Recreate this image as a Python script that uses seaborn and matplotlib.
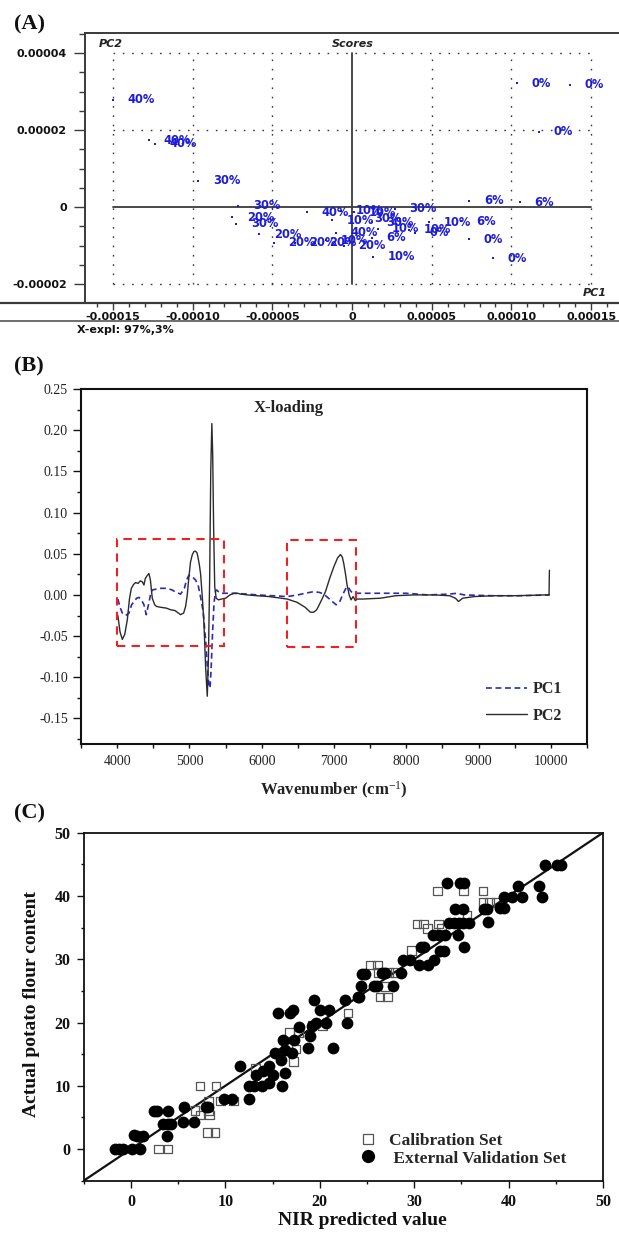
import matplotlib
matplotlib.use("Agg")
import matplotlib.pyplot as plt
import seaborn as sns
from matplotlib.lines import Line2D
from matplotlib.patches import Rectangle
from matplotlib.ticker import MultipleLocator, FixedLocator, FormatStrFormatter

# ---------------- Panel A: PCA scores ----------------
score_pc1 = [-15.0e-5, -12.75e-5, -12.35e-5, -9.65e-5, -7.13e-5, -7.5e-5, -7.25e-5,
             -5.82e-5, -4.9e-5, -3.6e-5, -2.35e-5, -2.85e-5, -1.24e-5, -1.0e-5,
             -1.6e-5, -0.5e-5, -0.7e-5, 0.15e-5, 0.5e-5, 1.24e-5, 1.6e-5, 1.24e-5,
             1.34e-5, 2.7e-5, 3.6e-5, 3.96e-5, 4.83e-5, 6.86e-5, 7.36e-5, 10.54e-5,
             7.36e-5, 8.86e-5, 10.33e-5, 13.68e-5, 11.75e-5]
score_pc2 = [2.79e-5, 1.74e-5, 1.64e-5, 0.68e-5, 0.04e-5, -0.26e-5, -0.43e-5,
             -0.71e-5, -0.92e-5, -0.92e-5, -0.92e-5, -0.14e-5, -0.34e-5, -0.66e-5,
             -0.86e-5, -1.0e-5, -0.1e-5, -0.13e-5, -0.3e-5, -0.39e-5, -0.56e-5, -0.8e-5,
             -1.29e-5, -0.04e-5, -0.59e-5, -0.66e-5, -0.39e-5, -0.37e-5, 0.16e-5, 0.12e-5,
             -0.84e-5, -1.33e-5, 3.21e-5, 3.17e-5, 1.96e-5]
score_labels = ["40%", "40%", "40%", "30%", "30%", "20%", "30%",
                "20%", "20%", "20%", "20%", "40%", "10%", "40%",
                "10%", "20%", "10%", "10%", "30%", "30%", "10%", "6%",
                "10%", "30%", "10%", "0%", "10%", "6%", "6%", "6%",
                "0%", "0%", "0%", "0%", "0%"]
a_xticks = [-0.00015, -0.00010, -0.00005, 0.0, 0.00005, 0.00010, 0.00015]
a_xticklabels = ["-0.00015", "-0.00010", "-0.00005", "0", "0.00005", "0.00010", "0.00015"]
a_yticks = [-0.00002, 0.0, 0.00002, 0.00004]
a_yticklabels = ["-0.00002", "0", "0.00002", "0.00004"]

# ---------------- Panel B: X-loadings ----------------
wn_pc2 = [4010, 4040, 4072, 4105, 4141, 4170, 4196, 4230, 4256, 4290, 4320, 4348, 4371,
          4390, 4420, 4440, 4460, 4486, 4520, 4546, 4600, 4680, 4740, 4800, 4878, 4920,
          4947, 4970, 4993, 5015, 5040, 5065, 5086, 5105, 5118, 5140, 5155, 5180, 5201,
          5225, 5247, 5262, 5280, 5295, 5310, 5322, 5335, 5350, 5370, 5400, 5445, 5500,
          5560, 5620, 5666, 5706, 5800, 5937, 6100, 6352, 6490, 6600, 6674, 6720, 6760,
          6790, 6840, 6882, 6940, 6997, 7050, 7089, 7115, 7135, 7160, 7181, 7210, 7236,
          7264, 7296, 7319, 7400, 7641, 7851, 8100, 8396, 8600, 8680, 8722, 8780, 8940,
          9200, 9500, 9925, 9975, 9980]
pc2 = [-0.025, -0.045, -0.054, -0.048, -0.030, -0.005, 0.008, 0.013, 0.015, 0.014, 0.017,
       0.016, 0.012, 0.020, 0.024, 0.026, 0.018, -0.004, -0.012, -0.014, -0.015, -0.016,
       -0.018, -0.019, -0.024, -0.022, -0.014, 0.000, 0.022, 0.040, 0.049, 0.053, 0.053,
       0.051, 0.046, 0.035, 0.025, -0.005, -0.035, -0.090, -0.123, -0.080, 0.020, 0.150,
       0.208, 0.170, 0.080, 0.010, -0.004, -0.006, -0.005, -0.004, 0.000, 0.002, 0.002,
       0.001, 0.000, -0.001, -0.002, -0.005, -0.009, -0.015, -0.021, -0.021, -0.018,
       -0.013, -0.004, 0.004, 0.020, 0.034, 0.045, 0.049, 0.046, 0.038, 0.025, 0.012,
       0.000, -0.006, -0.002, -0.007, -0.005, -0.005, -0.004, -0.001, 0.000, 0.000,
       -0.001, -0.004, -0.008, -0.004, -0.002, -0.001, -0.001, 0.000, 0.000, 0.030]
wn_pc1 = [4010, 4040, 4072, 4118, 4164, 4200, 4233, 4270, 4302, 4330, 4348, 4371, 4403,
          4425, 4440, 4460, 4486, 4540, 4600, 4693, 4760, 4820, 4878, 4930, 4960, 4993,
          5040, 5086, 5120, 5155, 5190, 5224, 5250, 5270, 5285, 5300, 5318, 5340, 5362,
          5377, 5400, 5431, 5615, 5800, 5937, 6150, 6352, 6500, 6600, 6720, 6800, 6859,
          6950, 7030, 7080, 7130, 7170, 7195, 7227, 7260, 7319, 7641, 8000, 8300, 8600,
          8700, 8800, 9200, 9600, 9975, 9985]
pc1 = [-0.005, -0.015, -0.022, -0.025, -0.022, -0.012, -0.008, -0.004, -0.003, -0.006,
       -0.008, -0.012, -0.024, -0.015, -0.010, 0.000, 0.006, 0.007, 0.008, 0.008, 0.006,
       0.003, 0.001, 0.008, 0.018, 0.024, 0.022, 0.018, 0.012, -0.003, -0.020, -0.055,
       -0.090, -0.111, -0.113, -0.090, -0.050, -0.010, 0.005, 0.006, 0.004, 0.002, 0.002,
       0.001, 0.000, -0.001, -0.002, 0.000, 0.002, 0.004, 0.003, 0.001, -0.006, -0.012,
       -0.008, 0.002, 0.009, 0.010, 0.005, 0.002, 0.002, 0.002, 0.002, 0.000, 0.001,
       0.002, 0.000, -0.001, -0.001, 0.000, 0.000]
# highlighted regions (wavenumber start, end, loading low, high)
regions = [(4000, 5480, -0.0615, 0.068), (6345, 7300, -0.063, 0.067)]

# ---------------- Panel C: predicted vs actual ----------------
cal_pred = [2.95, 3.95, 8.1, 8.9, 7.3, 8.3, 6.8, 8.2, 8.2, 9.5, 10.85, 7.3, 9.0, 13.2, 17.2,
            17.5, 16.8, 17.75, 19.2, 20.3, 23.0, 26.4, 27.15, 26.9, 26.2, 27.3, 28.0, 25.35,
            26.1, 29.7, 30.3, 31.0, 32.6, 31.4, 32.9, 35.6, 37.3, 38.0, 38.7, 32.5, 35.2, 37.3]
cal_act = [0, 0, 2.6, 2.6, 5.4, 5.4, 6.1, 6.1, 7.6, 7.6, 7.6, 10.0, 10.0, 12.8, 13.8,
           15.8, 18.4, 18.4, 19.5, 19.5, 21.5, 24.0, 24.0, 25.7, 27.9, 27.9, 27.9, 29.1,
           29.1, 31.4, 35.6, 35.6, 35.6, 34.9, 34.9, 37.0, 39.0, 39.0, 39.0, 40.8, 40.8, 40.8]
val_pred = [-1.7, -1.3, -0.85, 0.15, 1.0, 0.3, 0.65, 1.3, 3.78, 2.45, 2.75, 3.9, 3.4, 3.95,
            4.2, 5.5, 6.65, 5.6, 7.95, 8.15, 9.9, 10.7, 12.55, 11.55, 12.5, 13.0, 13.9, 14.6,
            16.0, 13.3, 14.0, 14.6, 15.0, 16.3, 15.25, 15.9, 16.3, 16.1, 17.1, 17.3, 15.6,
            16.9, 17.2, 17.75, 18.8, 19.0, 19.2, 19.35, 19.6, 20.05, 20.7, 21.0, 21.4, 22.7,
            22.85, 24.0, 24.2, 24.4, 24.5, 24.8, 25.7, 26.1, 27.8, 26.6, 26.9, 28.6, 28.8,
            29.6, 30.5, 31.5, 32.1, 30.7, 31.0, 32.7, 33.2, 35.3, 32.0, 32.6, 33.3, 34.6,
            33.7, 34.2, 34.7, 35.2, 35.8, 37.8, 34.3, 35.2, 37.4, 37.7, 39.1, 39.5, 39.5,
            40.4, 41.4, 43.5, 41.05, 43.2, 33.5, 34.9, 35.3, 43.9, 45.1, 45.5]
val_act = [0, 0, 0, 0, 0, 2.2, 2.0, 2.0, 2.1, 5.95, 5.95, 5.95, 4.0, 4.0, 4.0, 4.2, 4.2,
           6.7, 6.7, 6.7, 7.9, 7.9, 7.9, 13.05, 10.0, 10.0, 10.0, 10.5, 10.0, 11.7, 12.3,
           13.05, 11.7, 12.0, 15.2, 14.1, 15.7, 17.3, 15.2, 17.3, 21.5, 21.5, 21.9, 19.3,
           15.9, 17.8, 19.4, 23.5, 19.9, 21.9, 19.9, 21.9, 15.9, 23.6, 19.9, 24.0, 24.0,
           25.7, 27.7, 27.7, 25.8, 25.8, 25.8, 27.9, 27.9, 27.9, 29.9, 29.9, 29.1, 29.1,
           29.9, 31.9, 31.9, 31.3, 31.3, 31.9, 33.9, 33.9, 33.9, 33.8, 35.8, 35.8, 35.8,
           35.8, 35.8, 35.9, 38.0, 38.0, 38.0, 38.0, 38.1, 38.1, 39.9, 39.9, 39.9, 39.9,
           41.5, 41.5, 42.0, 42.0, 42.0, 44.9, 44.9, 44.9]
fit_line = [-5, 50]

# ---------------- style ----------------
sns.set_style("white")
plt.rcParams['font.family'] = ['DejaVu Sans']
plt.rcParams['axes.unicode_minus'] = False
plt.rcParams['mathtext.fontset'] = 'custom'
plt.rcParams['mathtext.rm'] = 'Liberation Serif'
plt.rcParams['mathtext.it'] = 'Liberation Serif:italic'
plt.rcParams['mathtext.bf'] = 'Liberation Serif:bold'

W, H = 619, 1238
fig = plt.figure(figsize=(W / 100, H / 100), dpi=100)
fig.patch.set_facecolor('white')


def rect(l, t, r, b):
    return [l / W, 1 - b / H, (r - l) / W, (b - t) / H]


def fx(px):
    return px / W


def fy(py):
    return 1 - py / H


SERIF = 'Liberation Serif'
BLUE = '#1c1cd6'
GREY = '#3a3a3a'

# ================= Panel A =================
axA = fig.add_axes(rect(85, 33, 619, 303))
for a in ('right', 'bottom'):
    axA.spines[a].set_visible(False)
for a in ('left', 'top'):
    axA.spines[a].set_color(GREY)
    axA.spines[a].set_linewidth(1.4)
axA.set_xlim(-0.0001675, 0.0001675)
axA.set_ylim(-0.0000249, 0.0000452)

# dotted grid
for gx in a_xticks:
    if gx != 0:
        axA.plot([gx, gx], [-0.00002, 0.00004], color=GREY, lw=1.0,
                 dashes=(1.2, 5.5), zorder=1)
for gy in a_yticks:
    if gy != 0:
        axA.plot([-0.00015, 0.00015], [gy, gy], color=GREY, lw=1.0,
                 dashes=(1.2, 5.5), zorder=1)
axA.plot([0, 0], [-0.00002, 0.00004], color=GREY, lw=1.3, zorder=1)
axA.plot([-0.00015, 0.00015], [0, 0], color=GREY, lw=1.3, zorder=1)

sns.scatterplot(x=score_pc1, y=score_pc2, ax=axA, color=BLUE, s=3, marker='s',
                linewidth=0, zorder=3)
for xv, yv, lab in zip(score_pc1, score_pc2, score_labels):
    axA.annotate(lab, (xv, yv), xytext=(10.5, 0), textcoords='offset points',
                 ha='left', va='center', color=BLUE, fontsize=8.3, fontweight='bold',
                 family='DejaVu Sans', zorder=4)

axA.xaxis.set_major_locator(FixedLocator(a_xticks))
axA.xaxis.set_minor_locator(MultipleLocator(0.00001))
axA.yaxis.set_major_locator(FixedLocator(a_yticks))
axA.yaxis.set_minor_locator(MultipleLocator(0.000005))
axA.set_xticklabels(a_xticklabels, fontweight='bold', fontsize=8, color='#111')
axA.set_yticklabels(a_yticklabels, fontweight='bold', fontsize=8, color='#111')
axA.tick_params(axis='x', which='major', direction='out', length=5, width=1,
                color=GREY, pad=1.5, bottom=True)
axA.tick_params(axis='x', which='minor', direction='out', length=3, width=1,
                color=GREY, bottom=True)
axA.tick_params(axis='y', which='major', direction='out', length=8, width=1,
                color=GREY, pad=5, left=True)
axA.tick_params(axis='y', which='minor', direction='out', length=4, width=1,
                color=GREY, left=True)

fig.add_artist(Line2D([0, 1], [fy(303), fy(303)], color=GREY, lw=1.6))
fig.add_artist(Line2D([0, 1], [fy(321.5), fy(321.5)], color='#555555', lw=1.2))
fig.text(fx(99), fy(44), "PC2", fontsize=8, fontweight='bold', style='italic',
         ha='left', va='center', color='#222')
fig.text(fx(353), fy(44), "Scores", fontsize=8, fontweight='bold', style='italic',
         ha='center', va='center', color='#222')
fig.text(fx(583), fy(293), "PC1", fontsize=8, fontweight='bold', style='italic',
         ha='left', va='center', color='#222')
fig.text(fx(77), fy(330), "X-expl: 97%,3%", fontsize=8, fontweight='bold',
         ha='left', va='center', color='#111')

# ================= Panel B =================
axB = fig.add_axes(rect(81, 389, 587, 744))
sns.lineplot(x=wn_pc2, y=pc2, ax=axB, color='#2b2b2b', lw=1.0, estimator=None,
             sort=False, zorder=3)
sns.lineplot(x=wn_pc1, y=pc1, ax=axB, color='#2a2ab8', lw=1.2, estimator=None,
             sort=False, zorder=2, dashes=False, linestyle=(0, (3.5, 2.2)))
for (x0, x1, y0, y1) in regions:
    axB.add_patch(Rectangle((x0, y0), x1 - x0, y1 - y0, fill=False, edgecolor='#ee2222',
                            lw=1.5, linestyle=(0, (4, 3)), zorder=4))
axB.set_xlim(3500, 10500)
axB.set_ylim(-0.181, 0.25)
axB.xaxis.set_major_locator(MultipleLocator(1000))
axB.xaxis.set_minor_locator(MultipleLocator(500))
axB.yaxis.set_major_locator(MultipleLocator(0.05))
axB.yaxis.set_minor_locator(MultipleLocator(0.025))
axB.yaxis.set_major_formatter(FormatStrFormatter('%.2f'))
axB.set_xticks([4000, 5000, 6000, 7000, 8000, 9000, 10000])
for sp in axB.spines.values():
    sp.set_color('#111')
    sp.set_linewidth(1.5)
axB.tick_params(axis='both', which='both', direction='out', width=1, color='#111',
                labelsize=10, labelcolor='#222')
axB.tick_params(axis='y', which='major', length=6, pad=3.5, left=True)
axB.tick_params(axis='y', which='minor', length=3, left=True)
axB.tick_params(axis='x', which='both', length=3, pad=5, bottom=True)
for lab in axB.get_xticklabels() + axB.get_yticklabels():
    lab.set_family(SERIF)
axB.set_xlabel("Wavenumber (cm$^{-1}$)", family=SERIF, fontweight='bold', fontsize=12,
               color='#222')
axB.xaxis.set_label_coords(0.499, -0.1)
axB.set_ylabel("")
axB.text(0.41, 0.947, "X-loading", transform=axB.transAxes, family=SERIF,
         fontweight='bold', fontsize=12, ha='center', va='center', color='#222')
hB = [Line2D([], [], color='#2a2ab8', lw=1.2, linestyle=(0, (3.5, 2.2))),
      Line2D([], [], color='#2b2b2b', lw=1.0)]
axB.legend(hB, ["PC1", "PC2"], loc='center left', bbox_to_anchor=(0.80, 0.117),
           frameon=False, borderpad=0, borderaxespad=0, handlelength=2.56,
           handletextpad=0.4, labelspacing=0.66,
           prop={'family': SERIF, 'weight': 'bold', 'size': 11.5})

# ================= Panel C =================
axC = fig.add_axes(rect(83.7, 832.7, 603, 1180.7))
sns.lineplot(x=fit_line, y=fit_line, ax=axC, color='#111', lw=1.6, estimator=None,
             zorder=2)
sns.scatterplot(x=cal_pred, y=cal_act, ax=axC, marker='s', s=38, facecolors='none',
                edgecolor='#555555', linewidth=0.9, zorder=3)
sns.scatterplot(x=val_pred, y=val_act, ax=axC, marker='o', s=72, color='#000000',
                edgecolor='#000000', linewidth=0, zorder=4)
axC.set_xlim(-5, 50)
axC.set_ylim(-5, 50)
axC.xaxis.set_major_locator(MultipleLocator(10))
axC.xaxis.set_minor_locator(MultipleLocator(5))
axC.yaxis.set_major_locator(MultipleLocator(10))
axC.yaxis.set_minor_locator(MultipleLocator(5))
for sp in axC.spines.values():
    sp.set_color('#111')
    sp.set_linewidth(1.3)
axC.tick_params(axis='both', which='both', direction='out', width=1, color='#111',
                labelsize=11.5, labelcolor='#111')
axC.tick_params(axis='both', which='major', length=5, pad=4.5, left=True, bottom=True)
axC.tick_params(axis='both', which='minor', length=2.5, left=True, bottom=True)
for lab in axC.get_xticklabels() + axC.get_yticklabels():
    lab.set_family(SERIF)
    lab.set_fontweight('bold')
axC.set_xlabel("NIR predicted value", family=SERIF, fontweight='bold', fontsize=14,
               color='#111')
axC.set_ylabel("Actual potato flour content", family=SERIF, fontweight='bold',
               fontsize=14, color='#111')
axC.xaxis.set_label_coords(0.536, -0.09)
axC.yaxis.set_label_coords(-0.084, 0.509)
hC = [Line2D([], [], marker='s', ls='', mfc='none', mec='#555555', mew=0.9, ms=6.5),
      Line2D([], [], marker='o', ls='', mfc='#000', mec='#000', ms=8.5)]
axC.legend(hC, ["Calibration Set", " External Validation Set"], loc='center left',
           bbox_to_anchor=(0.530, 0.0897), frameon=False, borderpad=0, borderaxespad=0,
           handlelength=1.0, handletextpad=0.75, labelspacing=0.1,
           prop={'family': SERIF, 'weight': 'bold', 'size': 12.5})

# panel letters
for txt, py in (("(A)", 24), ("(B)", 366), ("(C)", 813)):
    fig.text(fx(14), fy(py), txt, family=SERIF, fontweight='bold', fontsize=16,
             ha='left', va='center', color='#111')

fig.savefig("out.png", dpi=100, facecolor='white')
